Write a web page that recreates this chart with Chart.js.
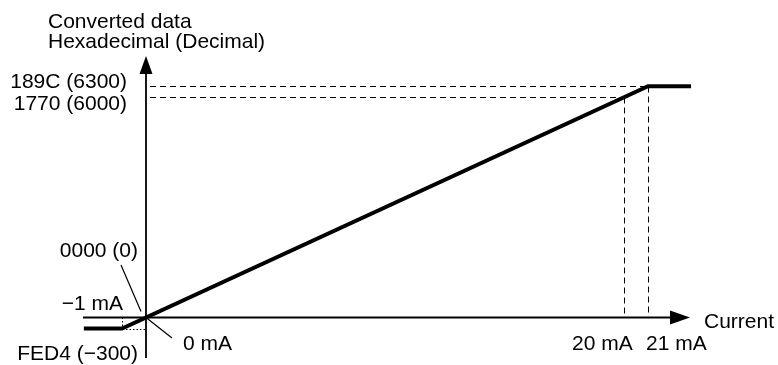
<!DOCTYPE html>
<html>
<head>
<meta charset="utf-8">
<script src="https://cdn.jsdelivr.net/npm/chart.js@4"></script>
<style>
html,body{margin:0;padding:0;background:#fff;}
#wrap{width:778px;height:365px;}
</style>
</head>
<body>
<div id="wrap"><canvas id="c" width="778" height="365"></canvas></div>
<script>
// ---- data ----
const currentMA = [-2.6, -1, 21, 22.8];
const convertedValues = [-300, -300, 6300, 6300];
const yTickValues = [6300, 6000, 0, -300];
const yTickLabels = ['189C (6300)', '1770 (6000)', '0000 (0)', 'FED4 (\u2212300)'];
const xTickValues = [-1, 0, 20, 21];
const xTickLabels = ['\u22121 mA', '0 mA', '20 mA', '21 mA'];
const yAxisTitle = ['Converted data', 'Hexadecimal (Decimal)'];
const xAxisTitle = 'Current';

const points = currentMA.map((x, i) => ({x: x, y: convertedValues[i]}));

const FONT = '21px "Liberation Sans", Arial, sans-serif';
const snap = v => Math.round(v) + 0.5;

const decor = {
  id: 'decor',
  beforeDatasetsDraw(chart) {
    const ctx = chart.ctx;
    const xs = chart.scales.x, ys = chart.scales.y;
    const X = v => xs.getPixelForValue(v);
    const Y = v => ys.getPixelForValue(v);
    const x0 = X(0), y0 = Y(0);
    ctx.save();
    ctx.strokeStyle = '#000';
    ctx.fillStyle = '#000';
    // axes
    ctx.lineWidth = 1.8;
    ctx.beginPath();
    ctx.moveTo(x0, 358); ctx.lineTo(x0, 72);
    ctx.moveTo(83, y0); ctx.lineTo(672, y0);
    ctx.stroke();
    // arrow heads
    ctx.beginPath();
    ctx.moveTo(x0, 56); ctx.lineTo(x0 - 6.5, 74); ctx.lineTo(x0 + 6.5, 74); ctx.closePath();
    ctx.fill();
    ctx.beginPath();
    ctx.moveTo(690, y0); ctx.lineTo(670, y0 - 7); ctx.lineTo(670, y0 + 7); ctx.closePath();
    ctx.fill();
    // dashed guides
    ctx.lineWidth = 1;
    ctx.setLineDash([6, 4]);
    const yA = snap(Y(yTickValues[0])), yB = snap(Y(yTickValues[1]));
    const xA = snap(X(xTickValues[3])), xB = snap(X(xTickValues[2]));
    ctx.beginPath();
    ctx.moveTo(x0 + 4, yA); ctx.lineTo(xA, yA);
    ctx.moveTo(x0 + 4, yB); ctx.lineTo(xB, yB);
    ctx.moveTo(xA, yA); ctx.lineTo(xA, y0 - 1);
    ctx.moveTo(xB, yB); ctx.lineTo(xB, y0 - 1);
    ctx.stroke();
    // dotted guides
    ctx.setLineDash([1.5, 2]);
    const xm = snap(X(xTickValues[0])), ym = snap(Y(yTickValues[3]));
    ctx.beginPath();
    ctx.moveTo(xm, y0); ctx.lineTo(xm, ym);
    ctx.moveTo(xm, ym); ctx.lineTo(x0, ym);
    ctx.stroke();
    ctx.setLineDash([]);
    // leader lines
    ctx.lineWidth = 1.2;
    ctx.beginPath();
    ctx.moveTo(121, 265); ctx.lineTo(x0 - 5, y0 - 6);
    ctx.moveTo(x0, y0); ctx.lineTo(172, 338);
    ctx.stroke();
    ctx.restore();
  },
  afterDraw(chart) {
    const ctx = chart.ctx;
    ctx.save();
    ctx.fillStyle = '#000';
    ctx.font = FONT;
    ctx.textBaseline = 'alphabetic';
    ctx.textAlign = 'left';
    ctx.fillText(yAxisTitle[0], 48, 28);
    ctx.fillText(yAxisTitle[1], 48, 48);
    ctx.fillText(xAxisTitle, 704, 328);
    // y labels (right aligned)
    ctx.textAlign = 'right';
    const yPos = [[127, 88], [127, 110], [138, 257], [138, 360]];
    yTickLabels.forEach((t, i) => ctx.fillText(t, yPos[i][0], yPos[i][1]));
    // x labels
    const xPos = [[123, 310, 'right'], [183, 350, 'left'], [572, 350, 'left'], [646, 350, 'left']];
    xTickLabels.forEach((t, i) => { ctx.textAlign = xPos[i][2]; ctx.fillText(t, xPos[i][0], xPos[i][1]); });
    ctx.restore();
  }
};

new Chart(document.getElementById('c'), {
  type: 'line',
  data: {
    datasets: [{
      data: points,
      borderColor: '#000',
      borderWidth: 4,
      pointRadius: 0,
      tension: 0,
      fill: false,
      borderCapStyle: 'butt',
      borderJoinStyle: 'miter'
    }]
  },
  options: {
    responsive: false,
    animation: false,
    devicePixelRatio: 1,
    layout: {padding: 0},
    plugins: {legend: {display: false}, tooltip: {enabled: false}},
    scales: {
      x: {type: 'linear', display: false, min: -6.1075, max: 26.438},
      y: {type: 'linear', display: false, min: -1294.1, max: 8649.8}
    }
  },
  plugins: [decor]
});
</script>
</body>
</html>
